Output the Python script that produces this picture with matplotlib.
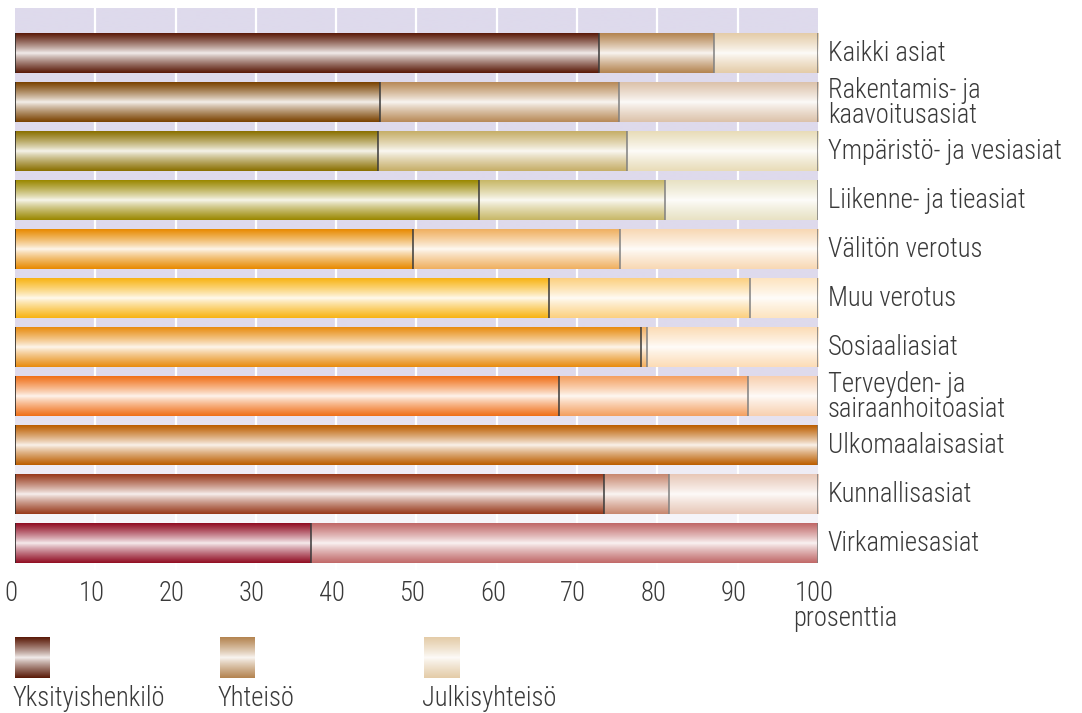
import numpy as np
import matplotlib
matplotlib.use("Agg")
import matplotlib.pyplot as plt
from matplotlib import font_manager
from matplotlib.colors import to_rgb
import matplotlib.transforms as mtransforms

# ---------------- data ----------------
categories = [
    "Kaikki asiat",
    "Rakentamis- ja\nkaavoitusasiat",
    "Ympäristö- ja vesiasiat",
    "Liikenne- ja tieasiat",
    "Välitön verotus",
    "Muu verotus",
    "Sosiaaliasiat",
    "Terveyden- ja\nsairaanhoitoasiat",
    "Ulkomaalaisasiat",
    "Kunnallisasiat",
    "Virkamiesasiat",
]
yksityishenkilo = [72.7, 45.4, 45.2, 57.8, 49.6, 66.5, 78.0, 67.7, 100.0, 73.4, 36.9]
yhteiso = [14.3, 29.8, 31.0, 23.2, 25.7, 25.0, 0.7, 23.6, 0.0, 8.0, 63.1]
julkisyhteiso = [13.0, 24.8, 23.8, 19.0, 24.7, 8.5, 21.3, 8.7, 0.0, 18.6, 0.0]
series_names = ["Yksityishenkilö", "Yhteisö", "Julkisyhteisö"]
xticks = [0, 10, 20, 30, 40, 50, 60, 70, 80, 90, 100]
xlabel = "prosenttia"

# ---------------- styles ----------------
dark_colors = ["#5a1a08", "#7a4200", "#8a7000", "#9a8800", "#e88a00", "#f8b414",
               "#e88c10", "#f07018", "#bc5e00", "#983a1c", "#900c22"]
mid_colors = ["#b48450", "#b88a58", "#c6ae68", "#c8b868", "#f0b060", "#fcd080",
              "#f4b060", "#f4a060", "#c88040", "#c88870", "#c06868"]
light_colors = ["#e4cca8", "#dcc2aa", "#e8dcb8", "#e8e2c4", "#f8d8b4", "#fde4c0",
                "#fcdcb6", "#f8d0b0", "#f0d0b0", "#e8c8b8", "#ecc8c8"]
legend_colors = ["#5a1a08", "#b48450", "#e4cca8"]

avail = {f.name for f in font_manager.fontManager.ttflist}
fam = None
for cand in ["Roboto Condensed", "Open Sans Condensed", "Liberation Sans Narrow"]:
    if cand in avail:
        fam = cand
        break
if fam is None:
    fam = "Lato"
FAM = [fam, "DejaVu Sans"]
plt.rcParams["font.family"] = FAM
plt.rcParams["font.weight"] = "light"
TXT = "#3a3a3a"
FS = 19.2

W, H = 1082, 713
fig = plt.figure(figsize=(W / 100, H / 100), dpi=100)

ax_left, ax_right, ax_top, ax_bot = 15, 818, 8, 570
ax = fig.add_axes([ax_left / W, 1 - ax_bot / H, (ax_right - ax_left) / W, (ax_bot - ax_top) / H])

pitch = 49.0
ylim_top = -45 / pitch
ylim_bot = ylim_top + (ax_bot - ax_top) / pitch
bar_h = 40 / pitch


def grad_img(color, n=80, power=0.85, center_mix=0.93):
    c = np.array(to_rgb(color))
    center = c * (1 - center_mix) + np.ones(3) * center_mix
    t = np.abs(np.linspace(-1, 1, n)) ** power
    img = center[None, :] + (c - center)[None, :] * t[:, None]
    return img[:, None, :]


# background gradient (lavender -> white)
bg_top = np.array(to_rgb("#dedaec"))
bg_bot = np.array(to_rgb("#fdfdfe"))
ys = np.linspace(0, 1, 200)
fade = np.clip((ys - 0.66) / 0.34, 0, 1) ** 0.9
bg = bg_top[None, :] * (1 - fade[:, None]) + bg_bot[None, :] * fade[:, None]
ax.imshow(bg[:, None, :], extent=[0, 1, 0, 1], transform=ax.transAxes, aspect="auto",
          zorder=0, interpolation="bilinear")

for gx in xticks[1:-1]:
    ax.axvline(gx, color="white", lw=1.6, zorder=1)

ypos = np.arange(len(categories))
series = [yksityishenkilo, yhteiso, julkisyhteiso]
palettes = [dark_colors, mid_colors, light_colors]
left = np.zeros(len(categories))
for s_idx, vals in enumerate(series):
    vals = np.array(vals)
    bars = ax.barh(ypos, vals, left=left, height=bar_h, color=palettes[s_idx],
                   edgecolor="none", zorder=2)
    for i, b in enumerate(bars):
        if vals[i] <= 0:
            continue
        x0, w = b.get_x(), b.get_width()
        y0, h = b.get_y(), b.get_height()
        im = ax.imshow(grad_img(palettes[s_idx][i]), extent=[x0, x0 + w, y0 + h, y0],
                       aspect="auto", interpolation="bilinear", zorder=3)
        im.set_clip_path(b)
    right = left + vals
    for i in range(len(categories)):
        if vals[i] <= 0:
            continue
        if right[i] >= 99.99:
            col = "#7a7a7a"
        elif s_idx == 0:
            col = "#3a3a3a"
        else:
            col = "#808080"
        ax.vlines(right[i], ypos[i] - bar_h / 2, ypos[i] + bar_h / 2, colors=col,
                  lw=1.1, zorder=4)
    left = right

ax.vlines(np.zeros(len(categories)), ypos - bar_h / 2, ypos + bar_h / 2,
          colors="#2a2a2a", lw=1.2, zorder=4)

ax.set_xlim(0, 100)
ax.set_ylim(ylim_bot, ylim_top)
ax.set_yticks([])
ax.set_xticks(xticks)
ax.set_xticklabels([str(v) for v in xticks], fontsize=FS, color=TXT, fontweight="light")
ax.tick_params(axis="x", length=0, pad=7)
off = mtransforms.ScaledTranslation(-4 / 100, 0, fig.dpi_scale_trans)
for lab in ax.get_xticklabels():
    lab.set_transform(lab.get_transform() + off)
for sp in ax.spines.values():
    sp.set_visible(False)

for i, cat in enumerate(categories):
    ax.text(101.2, ypos[i] + 0.02, cat, ha="left", va="center", fontsize=FS, color=TXT,
            linespacing=0.88, clip_on=False, fontweight="light")

fig.text(793 / W, 1 - 626 / H, xlabel, ha="left", va="baseline", fontsize=FS, color=TXT,
         fontweight="light")

# legend
leg_x = [15, 220, 424]
for k, name in enumerate(series_names):
    lax = fig.add_axes([leg_x[k] / W, 1 - 678 / H, 35 / W, 41 / H])
    lax.imshow(grad_img(legend_colors[k]), aspect="auto", extent=[0, 1, 0, 1],
               interpolation="bilinear")
    lax.set_axis_off()
    fig.text((leg_x[k] - 2) / W, 1 - 706 / H, name, ha="left", va="baseline",
             fontsize=FS, color=TXT, fontweight="light")

fig.savefig("out.png", dpi=100)
